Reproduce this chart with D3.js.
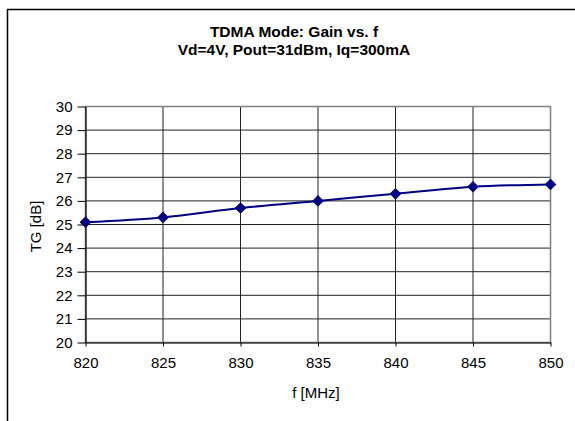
<!DOCTYPE html>
<html>
<head>
<meta charset="utf-8">
<script src="https://cdn.jsdelivr.net/npm/d3@7"></script>
<style>
  html, body { margin: 0; padding: 0; background: #fff; overflow: hidden; }
  svg { display: block; overflow: hidden; font-family: Arial, "Liberation Sans", sans-serif; }
</style>
</head>
<body>
<svg id="chart" width="575" height="421"></svg>
<script>
const freqs = [820, 825, 830, 835, 840, 845, 850];
const gain = [25.1, 25.3, 25.7, 26.0, 26.3, 26.6, 26.7];
const xTicks = [820, 825, 830, 835, 840, 845, 850];
const yTicks = [20, 21, 22, 23, 24, 25, 26, 27, 28, 29, 30];
const titleLines = ["TDMA Mode: Gain vs. f", "Vd=4V, Pout=31dBm, Iq=300mA"];
const xLabel = "f [MHz]";
const yLabel = "TG [dB]";

const svg = d3.select("#chart");
const pLeft = 85.5, pRight = 550.5, pTop = 106.5, pBottom = 342.5;

// outer chart frame (extends past the right and bottom edges)
svg.append("path").attr("d", "M7.5,430 V9.5 H600")
  .attr("fill", "none").attr("stroke", "#000").attr("stroke-width", 1.5);

const x = d3.scaleLinear().domain([820, 850]).range([pLeft, pRight]);
const y = d3.scaleLinear().domain([20, 30]).range([pBottom, pTop]);

// gridlines
svg.append("g").selectAll("line").data(yTicks.filter(v => v !== 20 && v !== 30)).join("line")
  .attr("x1", pLeft).attr("x2", pRight).attr("y1", d => y(d)).attr("y2", d => y(d))
  .attr("stroke", "#222").attr("stroke-width", 1);
svg.append("g").selectAll("line").data(xTicks.filter(v => v !== 820 && v !== 850)).join("line")
  .attr("y1", pTop).attr("y2", pBottom).attr("x1", d => x(d)).attr("x2", d => x(d))
  .attr("stroke", "#222").attr("stroke-width", 1);

// plot area border (gray)
svg.append("rect").attr("x", pLeft).attr("y", pTop).attr("width", pRight - pLeft).attr("height", pBottom - pTop)
  .attr("fill", "none").attr("stroke", "#808080").attr("stroke-width", 1.5);

// axes
const xAxis = d3.axisBottom(x).tickValues(xTicks).tickSizeInner(4).tickSizeOuter(0).tickPadding(11).tickFormat(d3.format("d"));
const gx = svg.append("g").attr("transform", `translate(0,${pBottom})`).call(xAxis);
const yAxis = d3.axisLeft(y).tickValues(yTicks).tickSizeInner(8).tickSizeOuter(0).tickPadding(5).tickFormat(d3.format("d"));
const gy = svg.append("g").attr("transform", `translate(${pLeft},0)`).call(yAxis);
[gx, gy].forEach(g => {
  g.selectAll(".domain").attr("stroke", "#000").attr("stroke-width", 1.2);
  g.selectAll(".tick line").attr("stroke", "#000");
  g.selectAll("text").attr("font-size", 15).attr("fill", "#000").attr("font-family", "Arial, 'Liberation Sans', sans-serif");
});

// line
const line = d3.line().x((d, i) => x(freqs[i])).y(d => y(d)).curve(d3.curveCatmullRom.alpha(0.5));
svg.append("path").datum(gain).attr("d", line)
  .attr("fill", "none").attr("stroke", "#000080").attr("stroke-width", 2);

// markers
svg.append("g").selectAll("path").data(gain).join("path")
  .attr("d", d3.symbol(d3.symbolSquare, 52))
  .attr("transform", (d, i) => `translate(${x(freqs[i])},${y(d)}) rotate(45)`)
  .attr("fill", "#000080").attr("stroke", "#000080").attr("stroke-width", 1);

// titles
svg.append("g").selectAll("text").data(titleLines).join("text")
  .attr("x", 294).attr("y", (d, i) => 37 + i * 18)
  .attr("text-anchor", "middle").attr("font-size", 15.5).attr("font-weight", "bold")
  .text(d => d);

svg.append("text").attr("x", 316).attr("y", 397.5).attr("text-anchor", "middle")
  .attr("font-size", 15).text(xLabel);

svg.append("text").attr("transform", `translate(41,${(pTop + pBottom) / 2 + 2}) rotate(-90)`)
  .attr("text-anchor", "middle").attr("font-size", 15).text(yLabel);
</script>
</body>
</html>
